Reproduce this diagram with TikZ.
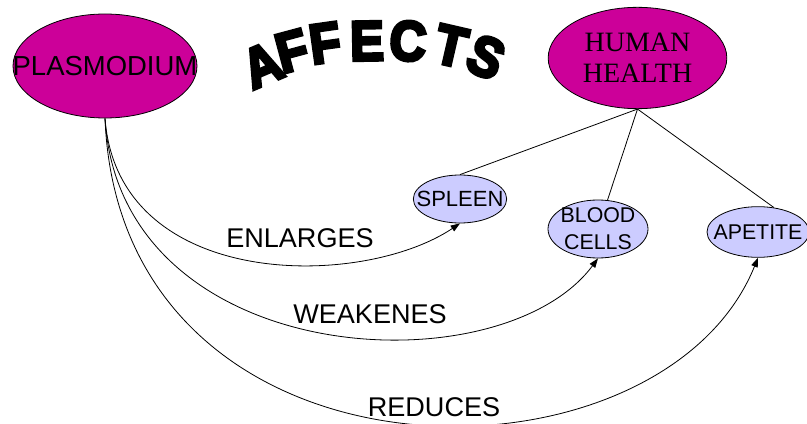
\documentclass[tikz,border=0pt]{standalone}
\usepackage{fontspec}
\setmainfont{Liberation Sans}
\newfontfamily\serifface{Liberation Serif}
\newfontfamily\heavyface[FakeBold=6]{Liberation Sans Bold}
\usetikzlibrary{shapes.geometric,arrows.meta}
\definecolor{plum}{RGB}{204,0,153}
\definecolor{lilac}{RGB}{204,204,255}

\begin{document}
\begin{tikzpicture}[x=0.75pt,y=-0.75pt,
  oval/.style={ellipse,draw=black,line width=0.6pt,inner sep=0pt},
  bigoval/.style={oval,fill=plum},
  smalloval/.style={oval,fill=lilac},
  link/.style={draw=black,line width=0.6pt},
  flow/.style={link,-{Triangle[length=7pt,width=5pt]}},
  verb/.style={font=\fontsize{20.3}{24}\selectfont,inner sep=0pt},
  arch/.style={font=\heavyface\fontsize{40}{40}\selectfont,inner sep=0pt}
]
\useasboundingbox (0,0) rectangle (807,424);

% main concepts
\node[bigoval,minimum width=138pt,minimum height=78pt,
  label={[font=\fontsize{20.6}{24}\selectfont]center:PLASMODIUM}] (plas) at (105,66) {};
\node[bigoval,minimum width=134pt,minimum height=76pt,
  label={[font=\serifface\fontsize{21}{23.25}\selectfont,align=center]center:HUMAN\\HEALTH}] (hh) at (637.5,58) {};

% affected parts
\node[smalloval,minimum width=70pt,minimum height=36pt,
  label={[font=\fontsize{16.5}{20}\selectfont]center:SPLEEN}] (spleen) at (460,199) {};
\node[smalloval,minimum width=75pt,minimum height=43.5pt,
  label={[font=\fontsize{16}{20.25}\selectfont,align=center]center:BLOOD\\CELLS}] (blood) at (598,229) {};
\node[smalloval,minimum width=76.5pt,minimum height=38pt,
  label={[font=\fontsize{16}{20}\selectfont]center:APETITE}] (apetite) at (758,232) {};

% arched title, one rotated letter at a time
\foreach \ch/\x/\y/\a [count=\i] in {A/262/65/23, F/292/51/15, F/325/43/8, E/367/41/1, C/408/41/-5, T/451/46/-13, S/486/57/-23}
  \node[arch,rotate=\a] (arc\i) at (\x,\y) {\scalebox{0.95}[1.05]{\ch}};

% links from human health
\draw[link] (hh.south) -- (spleen.north);
\draw[link] (hh.south) -- (blood);
\draw[link] (hh.south) -- (apetite.57);

% effects of plasmodium
\draw[flow] (plas.south) .. controls (118,290) and (360,290) .. (spleen.south);
\draw[flow] (plas.south) .. controls (120,370) and (500,390) .. (blood.south);
\draw[flow] (plas.south) .. controls (120,500) and (660,500) .. (apetite.south);

\node[verb] (enl) at (300,238) {ENLARGES};
\node[verb] (weak) at (370,314) {WEAKENES};
\node[verb] (red) at (434,407) {REDUCES};
\end{tikzpicture}
\end{document}
